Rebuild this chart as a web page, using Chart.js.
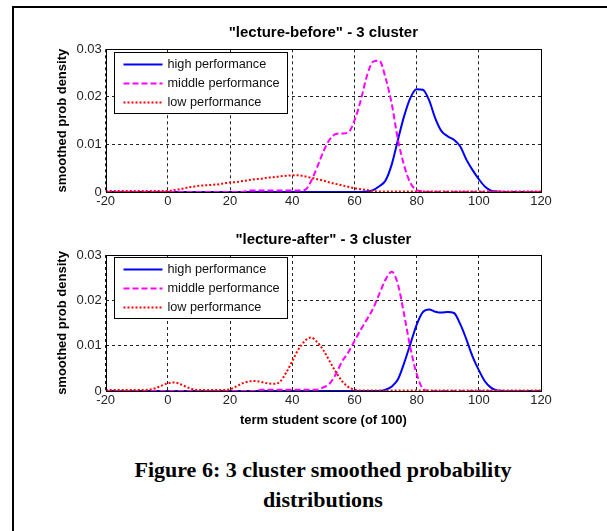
<!DOCTYPE html>
<html>
<head>
<meta charset="utf-8">
<script src="https://cdn.jsdelivr.net/npm/chart.js@4.4.1/dist/chart.umd.min.js"></script>
<style>
  body { margin: 0; background: #fff; }
  #page { position: relative; width: 607px; height: 531px; overflow: hidden; background: #fff; }
  #frame { position: absolute; left: 12px; top: 6px; width: 700px; height: 600px; border-left: 2px solid #000; border-top: 2px solid #000; }
  .plot { position: absolute; left: 0; width: 607px; height: 215px; }
  #caption { position: absolute; left: 0; top: 455px; width: 646px; text-align: center;
    font-family: "Times New Roman", "Liberation Serif", serif; font-weight: bold; font-size: 22px; line-height: 30px; color: #000; }
</style>
</head>
<body>
<div id="page">
  <div id="frame"></div>
  <div class="plot" style="top:0px"><canvas id="beforeChart" width="607" height="215"></canvas></div>
  <div class="plot" style="top:215px"><canvas id="afterChart" width="607" height="215"></canvas></div>
  <div id="caption">Figure 6: 3 cluster smoothed probability<br>distributions</div>
</div>
<script>
// term student score, one point every 2 marks
const scores = [
  -20, -18, -16, -14, -12, -10, -8, -6, -4, -2,
  0, 2, 4, 6, 8, 10, 12, 14, 16, 18,
  20, 22, 24, 26, 28, 30, 32, 34, 36, 38,
  40, 42, 44, 46, 48, 50, 52, 54, 56, 58,
  60, 62, 64, 66, 68, 70, 72, 74, 76, 78,
  80, 82, 84, 86, 88, 90, 92, 94, 96, 98,
  100, 102, 104, 106, 108, 110, 112, 114, 116, 118,
  120
];

const seriesNames = ["high performance", "middle performance", "low performance"];
const xTicks = [-20, 0, 20, 40, 60, 80, 100, 120];
const yTicks = [0, 0.01, 0.02, 0.03];

// "lecture-before"
const beforeHigh = [
  0, 0, 0, 0, 0, 0, 0, 0, 0, 0,
  0, 0, 0, 0, 0, 0, 0, 0, 0, 0,
  0, 0, 0, 0, 0, 0, 0, 0, 0, 0,
  0, 0, 0, 0, 0, 0, 0, 0, 0, 0,
  0, 0, 0.0001, 0.0004, 0.0012, 0.0024, 0.0058, 0.011, 0.016, 0.0198,
  0.0216, 0.0215, 0.0193, 0.0155, 0.0128, 0.0117, 0.011, 0.0096, 0.0068, 0.0046,
  0.0027, 0.0011, 0.0003, 0.0001, 0, 0, 0, 0, 0, 0,
  0
];
const beforeMiddle = [
  0, 0, 0, 0, 0, 0, 0, 0, 0, 0,
  0, 0, 0, 0, 0, 0, 0, 0, 0, 0,
  0, 0, 0, 0.0003, 0.0003, 0.0003, 0.0003, 0.0003, 0.0003, 0.0003,
  0.0003, 0.0003, 0.0004, 0.0022, 0.0052, 0.0085, 0.011, 0.0122, 0.0123, 0.0125,
  0.015, 0.0192, 0.0244, 0.0274, 0.0276, 0.024, 0.0185, 0.011, 0.0055, 0.0019,
  0.0004, 0.0001, 0, 0, 0, 0, 0, 0, 0, 0,
  0, 0, 0, 0, 0, 0, 0, 0, 0, 0,
  0
];
const beforeLow = [
  0.0002, 0.0002, 0.0002, 0.0002, 0.0002, 0.0002, 0.0002, 0.0002, 0.0002, 0.0002,
  0.0002, 0.0004, 0.0006, 0.0009, 0.0011, 0.0013, 0.0014, 0.0015, 0.0016, 0.0018,
  0.002, 0.0021, 0.0023, 0.0025, 0.0027, 0.0028, 0.003, 0.0031, 0.0033, 0.0034,
  0.0035, 0.0035, 0.0033, 0.003, 0.0027, 0.0024, 0.002, 0.0017, 0.0014, 0.0011,
  0.0008, 0.0006, 0.0004, 0.0002, 0.0001, 0.0001, 0.0001, 0.0001, 0.0001, 0.0001,
  0.0001, 0.0001, 0.0001, 0.0001, 0.0001, 0.0001, 0.0001, 0.0001, 0.0001, 0.0001,
  0.0001, 0.0001, 0.0001, 0.0001, 0.0001, 0.0001, 0.0001, 0.0001, 0.0001, 0.0001,
  0.0001
];

// "lecture-after"
const afterHigh = [
  0, 0, 0, 0, 0, 0, 0, 0, 0, 0,
  0, 0, 0, 0, 0, 0, 0, 0, 0, 0,
  0, 0, 0, 0, 0, 0, 0, 0, 0, 0,
  0, 0, 0, 0, 0, 0, 0, 0, 0, 0,
  0, 0, 0, 0, 0, 0.0003, 0.001, 0.0026, 0.0062, 0.0104,
  0.0146, 0.0174, 0.018, 0.0175, 0.0173, 0.0174, 0.0172, 0.0148, 0.0114, 0.0076,
  0.0046, 0.0021, 0.0007, 0.0001, 0, 0, 0, 0, 0, 0,
  0
];
const afterMiddle = [
  0, 0, 0, 0, 0, 0, 0, 0, 0, 0,
  0, 0, 0, 0, 0, 0, 0, 0, 0, 0,
  0, 0, 0, 0, 0, 0.0003, 0.0003, 0.0003, 0.0003, 0.0003,
  0.0003, 0.0003, 0.0003, 0.0003, 0.0003, 0.0008, 0.0016, 0.0037, 0.0065, 0.0085,
  0.011, 0.0135, 0.0158, 0.0182, 0.0214, 0.0246, 0.0263, 0.0235, 0.0168, 0.0095,
  0.0038, 0.0005, 0, 0, 0, 0, 0, 0, 0, 0,
  0, 0, 0, 0, 0, 0, 0, 0, 0, 0,
  0
];
const afterLow = [
  0.0002, 0.0002, 0.0002, 0.0002, 0.0002, 0.0002, 0.0002, 0.0003, 0.0006, 0.0012,
  0.0017, 0.0019, 0.0015, 0.0009, 0.0004, 0.0002, 0.0002, 0.0002, 0.0002, 0.0002,
  0.0004, 0.001, 0.0017, 0.0021, 0.0022, 0.002, 0.0017, 0.0016, 0.002, 0.004,
  0.0066, 0.0092, 0.011, 0.0118, 0.0108, 0.009, 0.0066, 0.0042, 0.0022, 0.0009,
  0.0003, 0.0001, 0.0001, 0.0001, 0.0001, 0.0001, 0.0001, 0.0001, 0.0001, 0.0001,
  0.0001, 0.0001, 0.0001, 0.0001, 0.0001, 0.0001, 0.0001, 0.0001, 0.0001, 0.0001,
  0.0001, 0.0001, 0.0001, 0.0001, 0.0001, 0.0001, 0.0001, 0.0001, 0.0001, 0.0001,
  0.0001
];

const FONT = "Arial, 'Liberation Sans', sans-serif";

// axes title, plot frame and boxed legend in the upper left corner
const frameLegend = {
  id: "frameLegend",
  afterDraw(chart, args, opts) {
    const { ctx, chartArea } = chart;
    ctx.save();

    ctx.fillStyle = "#000";
    ctx.font = "bold 15px " + FONT;
    ctx.textAlign = "center";
    ctx.textBaseline = "middle";
    ctx.fillText(opts.title, (chartArea.left + chartArea.right) / 2, chartArea.top - opts.titleGap);

    ctx.setLineDash([]);
    ctx.strokeStyle = "#000";
    ctx.lineWidth = 1;
    ctx.strokeRect(Math.round(chartArea.left) + 0.5, Math.round(chartArea.top) + 0.5,
      Math.round(chartArea.right - chartArea.left), Math.round(chartArea.bottom - chartArea.top));

    const bx = Math.round(chartArea.left) + 8.5;
    const by = Math.round(chartArea.top) + opts.offset + 0.5;
    ctx.fillStyle = "#fff";
    ctx.fillRect(bx, by, 173, 61);
    ctx.strokeRect(bx, by, 173, 61);

    ctx.font = "12.7px " + FONT;
    ctx.textAlign = "left";
    chart.data.datasets.forEach((ds, i) => {
      const y = by + 12 + i * 19;
      ctx.strokeStyle = ds.borderColor;
      ctx.lineWidth = 2;
      ctx.setLineDash(ds.borderDash || []);
      ctx.beginPath();
      ctx.moveTo(bx + 9, y);
      ctx.lineTo(bx + 48, y);
      ctx.stroke();
      ctx.fillStyle = "#111";
      ctx.fillText(ds.label, bx + 53, y);
    });
    ctx.restore();
  }
};

function toPoints(values) {
  return scores.map((s, i) => ({ x: s, y: values[i] }));
}

function makeChart(id, title, high, middle, low, opts) {
  const ctx = document.getElementById(id).getContext("2d");
  return new Chart(ctx, {
    type: "line",
    data: {
      datasets: [
        {
          label: seriesNames[0],
          data: toPoints(high),
          borderColor: "#0000ff",
          borderWidth: 2,
          order: 2,
        },
        {
          label: seriesNames[1],
          data: toPoints(middle),
          borderColor: "#ff00ff",
          borderWidth: 2,
          borderDash: [6, 3],
          order: 1,
        },
        {
          label: seriesNames[2],
          data: toPoints(low),
          borderColor: "#ff0000",
          borderWidth: 2,
          borderDash: [2, 2],
          order: 0,
        },
      ],
    },
    options: {
      responsive: false,
      animation: false,
      devicePixelRatio: 1,
      layout: { padding: { left: 50, right: 66, top: opts.plotTop, bottom: 0 } },
      elements: {
        point: { radius: 0 },
        line: { cubicInterpolationMode: "monotone", fill: false },
      },
      plugins: {
        legend: { display: false },
        tooltip: { enabled: false },
        title: { display: false },
        frameLegend: { offset: opts.legendOffset, title: title, titleGap: opts.titleGap },
      },
      scales: {
        x: {
          type: "linear",
          min: -20,
          max: 120,
          afterBuildTicks: (axis) => { axis.ticks = xTicks.map((v) => ({ value: v })); },
          afterFit: (axis) => { axis.height = opts.xAxisHeight; },
          ticks: {
            color: "#222",
            font: { family: FONT, size: 13 },
            padding: 2,
            maxRotation: 0,
          },
          grid: {
            color: "#222",
            lineWidth: 1,
            drawTicks: false,
          },
          border: { display: false, dash: [3, 3] },
          title: {
            display: opts.xTitle !== "",
            text: opts.xTitle,
            color: "#000",
            font: { family: FONT, size: 13, weight: "bold" },
            padding: { top: 0, bottom: 2.2 },
          },
        },
        y: {
          min: 0,
          max: 0.03,
          afterBuildTicks: (axis) => { axis.ticks = yTicks.map((v) => ({ value: v })); },
          afterFit: (axis) => { axis.width = 55.7; },
          ticks: {
            color: "#222",
            font: { family: FONT, size: 13 },
            padding: 4,
            callback: (v) => (v === 0 ? "0" : v.toFixed(2)),
          },
          grid: {
            color: "#222",
            lineWidth: 1,
            drawTicks: false,
          },
          border: { display: false, dash: [3, 3] },
          title: {
            display: true,
            text: "smoothed prob density",
            color: "#000",
            font: { family: FONT, size: 13, weight: "bold" },
            padding: { top: 4.2, bottom: 0 },
          },
        },
      },
    },
    plugins: [frameLegend],
  });
}

makeChart("beforeChart", "\"lecture-before\" - 3 cluster", beforeHigh, beforeMiddle, beforeLow, {
  plotTop: 49.3,
  titleGap: 16.3,
  xAxisHeight: 23,
  xTitle: "",
  legendOffset: 3,
});

makeChart("afterChart", "\"lecture-after\" - 3 cluster", afterHigh, afterMiddle, afterLow, {
  plotTop: 40,
  titleGap: 15,
  xAxisHeight: 39,
  xTitle: "term student score (of 100)",
  legendOffset: 2,
});
</script>
</body>
</html>
